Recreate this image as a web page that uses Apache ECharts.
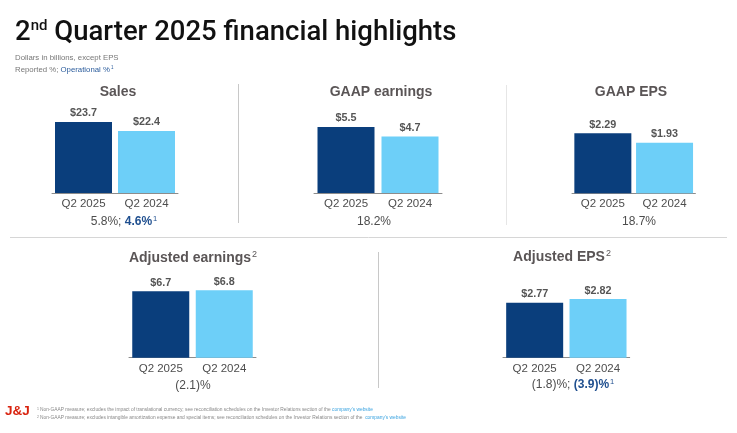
<!DOCTYPE html>
<html>
<head>
<meta charset="utf-8">
<script src="https://cdn.jsdelivr.net/npm/echarts@6/dist/echarts.min.js"></script>
<style>
html,body{margin:0;padding:0;background:#fff;}
#c{width:737px;height:433px;}
</style>
</head>
<body>
<div id="c"></div>
<script>
// ---- data ----
const categories = ['Q2 2025', 'Q2 2024'];
const panelTitles = ['Sales', 'GAAP earnings', 'GAAP EPS', 'Adjusted earnings', 'Adjusted EPS'];
const titleFootnotes = ['', '', '', '2', '2'];
const sales = [23.7, 22.4];
const gaapEarnings = [5.5, 4.7];
const gaapEps = [2.29, 1.93];
const adjustedEarnings = [6.7, 6.8];
const adjustedEps = [2.77, 2.82];
const valueDecimals = [1, 1, 2, 1, 2];
const reportedGrowth = ['5.8%', '18.2%', '18.7%', '(2.1)%', '(1.8)%'];
const operationalGrowth = ['4.6%', null, null, null, '(3.9)%'];

const seriesValues = [sales, gaapEarnings, gaapEps, adjustedEarnings, adjustedEps];

// ---- layout ----
const FONT = 'Liberation Sans, Arial, sans-serif';
const DARK = '#0a3e7c';
const LIGHT = '#6dcff8';
const GRAY = '#4d4d4d';
const TITLE_GRAY = '#5a5556';
const BLUE = '#1f4f8f';

const layout = [
  {left: 52,  width: 126,   top: 100, axisY: 193,   min: 13.44, max: 26.88, tx: 118, ty: 92,  gx: 124, gy: 222},
  {left: 314, width: 128,   top: 100, axisY: 193,   min: 0,     max: 7.75,  tx: 381, ty: 92,  gx: 374, gy: 222},
  {left: 572, width: 123.4, top: 100, axisY: 193.3, min: 0,     max: 3.561, tx: 631, ty: 92,  gx: 639, gy: 222},
  {left: 129, width: 127,   top: 265, axisY: 357.7, min: 0,     max: 9.36,  tx: 193, ty: 258, gx: 193, gy: 386},
  {left: 503, width: 126.7, top: 265, axisY: 357.7, min: 2.027, max: 3.28,  tx: 562, ty: 257, gx: 573, gy: 385}
];

const grids = [], xAxes = [], yAxes = [], series = [], graphics = [];

layout.forEach((L, i) => {
  grids.push({left: L.left, width: L.width, top: L.top, height: L.axisY - L.top});
  xAxes.push({
    type: 'category', gridIndex: i, data: categories,
    axisLine: {show: true, lineStyle: {color: '#8c8c8c', width: 1}},
    axisTick: {show: false},
    axisLabel: {color: GRAY, fontSize: 11.5, fontFamily: FONT, margin: 5}
  });
  yAxes.push({
    type: 'value', gridIndex: i, min: L.min, max: L.max,
    show: false, splitLine: {show: false}
  });
  const dec = valueDecimals[i];
  series.push({
    type: 'bar', xAxisIndex: i, yAxisIndex: i,
    barWidth: 57,
    data: seriesValues[i].map((v, j) => ({value: v, itemStyle: {color: j === 0 ? DARK : LIGHT}})),
    label: {
      show: true, position: 'top', distance: 3,
      color: '#555', fontSize: 10.8, fontWeight: 'bold', fontFamily: FONT,
      formatter: p => '$' + p.value.toFixed(dec)
    },
    silent: true, animation: false
  });
  // panel title
  graphics.push({
    type: 'text', x: L.tx, y: L.ty,
    style: {
      text: '{t|' + panelTitles[i] + '}' + (titleFootnotes[i] ? '{s|' + titleFootnotes[i] + '}' : ''),
      align: 'center', verticalAlign: 'middle',
      rich: {
        t: {fontSize: 14, fontWeight: 'bold', fontFamily: FONT, fill: TITLE_GRAY, color: TITLE_GRAY, lineHeight: 16},
        s: {fontSize: 9, fontFamily: FONT, fill: TITLE_GRAY, color: TITLE_GRAY, lineHeight: 16, padding: [0, 0, 7, 1]}
      }
    }
  });
  // growth text
  let txt = '{r|' + reportedGrowth[i] + (operationalGrowth[i] ? '; ' : '') + '}';
  if (operationalGrowth[i]) txt += '{o|' + operationalGrowth[i] + '}{s|1}';
  graphics.push({
    type: 'text', x: L.gx, y: L.gy,
    style: {
      text: txt, align: 'center', verticalAlign: 'middle',
      rich: {
        r: {fontSize: 12, fontFamily: FONT, fill: GRAY, color: GRAY, lineHeight: 14},
        o: {fontSize: 12, fontWeight: 'bold', fontFamily: FONT, fill: BLUE, color: BLUE, lineHeight: 14},
        s: {fontSize: 7.5, fontFamily: FONT, fill: BLUE, color: BLUE, lineHeight: 14, padding: [0, 0, 6, 1]}
      }
    }
  });
});

// dividers
const lineStyle = {stroke: '#c8c8c8', lineWidth: 1};
graphics.push({type: 'line', shape: {x1: 238.5, y1: 84, x2: 238.5, y2: 223}, style: lineStyle, silent: true});
graphics.push({type: 'line', shape: {x1: 506.5, y1: 85, x2: 506.5, y2: 225}, style: {stroke: '#e6e6e6', lineWidth: 1}, silent: true});
graphics.push({type: 'line', shape: {x1: 378.5, y1: 252, x2: 378.5, y2: 388}, style: lineStyle, silent: true});
graphics.push({type: 'line', shape: {x1: 10, y1: 237.5, x2: 727, y2: 237.5}, style: {stroke: '#d6d6d6', lineWidth: 1}, silent: true});

// header
graphics.push({
  type: 'text', x: 15, y: 33,
  style: {
    text: '{a|2}{b|nd}{a| Quarter 2025 financial highlights}',
    verticalAlign: 'middle',
    rich: {
      a: {fontSize: 27.5, fontWeight: 500, fontFamily: 'Roboto, sans-serif', fill: '#111', color: '#111', lineHeight: 32},
      b: {fontSize: 15, fontWeight: 500, fontFamily: 'Roboto, sans-serif', fill: '#111', color: '#111', lineHeight: 32, padding: [0, 0, 14, 0]}
    }
  }
});
graphics.push({
  type: 'text', x: 15, y: 58,
  style: {text: 'Dollars in billions, except EPS', fontSize: 7.8, fontFamily: FONT, fill: '#777', verticalAlign: 'middle'}
});
graphics.push({
  type: 'text', x: 15, y: 70,
  style: {
    text: '{g|Reported %; }{b|Operational %}{s|1}', verticalAlign: 'middle',
    rich: {
      g: {fontSize: 7.8, fontFamily: FONT, fill: '#777', color: '#777', lineHeight: 10},
      b: {fontSize: 7.8, fontFamily: FONT, fill: '#2b5c9c', color: '#2b5c9c', lineHeight: 10},
      s: {fontSize: 4.5, fontFamily: FONT, fill: '#2b5c9c', color: '#2b5c9c', lineHeight: 10, padding: [0, 0, 4, 1]}
    }
  }
});

// footer
graphics.push({
  type: 'text', x: 5, y: 411,
  style: {text: 'J&J', fontSize: 13.5, fontWeight: 'bold', fontFamily: FONT, fill: '#d9230f', verticalAlign: 'middle'}
});
const footRich = {
  t: {fontSize: 4.85, fontFamily: FONT, fill: '#888', color: '#888', lineHeight: 6},
  l: {fontSize: 4.85, fontFamily: FONT, fill: '#3aa3e0', color: '#3aa3e0', lineHeight: 6, textDecoration: 'underline'},
  s: {fontSize: 3.5, fontFamily: FONT, fill: '#888', color: '#888', lineHeight: 6, padding: [0, 1, 2, 0]}
};
graphics.push({
  type: 'text', x: 37, y: 410,
  style: {
    text: '{s|1}{t|Non-GAAP measure; excludes the impact of translational currency; see reconciliation schedules on the Investor Relations section of the }{l|company\u2019s website}',
    verticalAlign: 'middle', rich: footRich
  }
});
graphics.push({
  type: 'text', x: 37, y: 418,
  style: {
    text: '{s|2}{t|Non-GAAP measure; excludes intangible amortization expense and special items; see reconciliation schedules on the Investor Relations section of the  }{l|company\u2019s website}',
    verticalAlign: 'middle', rich: footRich
  }
});

const chart = echarts.init(document.getElementById('c'), null, {renderer: 'canvas'});
chart.setOption({
  animation: false,
  grid: grids,
  xAxis: xAxes,
  yAxis: yAxes,
  series: series,
  graphic: {elements: graphics}
});
</script>
</body>
</html>
